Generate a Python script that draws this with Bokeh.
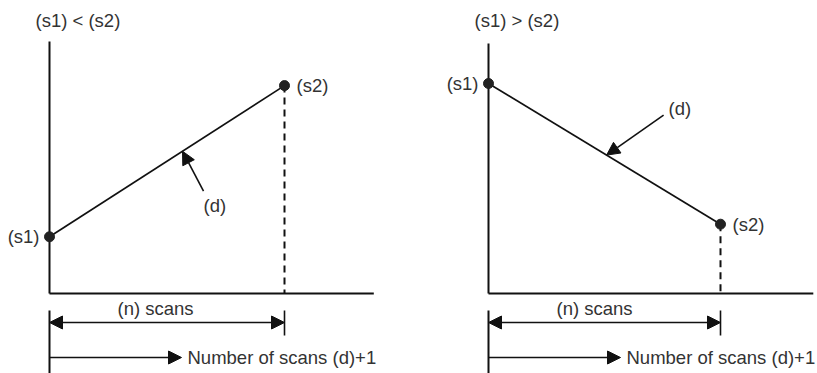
from bokeh.plotting import figure
from bokeh.layouts import row
from bokeh.models import Arrow, NormalHead, Range1d
from bokeh.core.properties import value
from bokeh.embed import file_html
from bokeh.resources import INLINE

# ---- diagram values (abstract units) ----
titles = ["(s1) < (s2)", "(s1) > (s2)"]
s1_values = [2.7, 10.0]
s2_values = [9.9, 3.3]
n_scans = [10, 10]
axis_tops = [12.0, 11.9]
x_axis_ends = [13.8, 14.0]
d_fractions = [0.566, 0.509]        # where the (d) arrow touches the line
count_labels = ["(s1)", "(s2)", "(d)", "(n) scans", "Number of scans (d)+1"]

# ---- layout ----
FIG_W = [420, 397]
FIG_H = 373
X0_PX = [49, 68]          # axis x position inside each figure
Y0_PX = 80                # axis y position from the bottom
XS = [23.5, 23.2]         # px per x-unit
YS = 21.0                 # px per y-unit
FONT = value("Liberation Sans")
FS = "18.5px"
TXT = "#333333"
INK = "#111111"

# (d) arrow tail offsets from the head, in px (dx right, dy up)
D_TAIL = [(21, -40), (57, 40)]
D_LABEL = [(21, -54, "left"), (62, 47, "left")]   # label pos rel. to head (px)


def make_panel(i):
    xs, w, x0 = XS[i], FIG_W[i], X0_PX[i]
    p = figure(width=w, height=FIG_H, output_backend="svg", toolbar_location=None,
               x_range=Range1d(-x0 / xs, (w - x0) / xs),
               y_range=Range1d(-Y0_PX / YS, (FIG_H - Y0_PX) / YS),
               min_border=0)
    p.axis.visible = False
    p.grid.visible = False
    p.outline_line_color = None
    p.background_fill_color = "white"
    p.border_fill_color = "white"

    s1, s2, n = s1_values[i], s2_values[i], n_scans[i]

    def px_x(v):
        return v / xs

    def px_y(v):
        return v / YS

    def txt(x, y, t, align="left"):
        p.text(x=[x], y=[y], text=[t], text_font=FONT, text_font_size=FS,
               text_color=TXT, text_align=align, text_baseline="middle")

    # title
    txt(px_x(-14), (FIG_H - Y0_PX - 20) / YS, titles[i])

    # axes
    p.line([0, 0], [0, axis_tops[i]], line_color=INK, line_width=2)
    p.line([0, x_axis_ends[i]], [0, 0], line_color=INK, line_width=2)

    # ramp line
    p.line([0, n], [s1, s2], line_color=INK, line_width=1.7)
    # dashed drop line
    p.line([n, n], [s2, 0], line_color=INK, line_width=2, line_dash="7 5")
    # points
    p.scatter([0, n], [s1, s2], size=10, color="#222222")

    # point labels
    txt(px_x(-10), s1, count_labels[0], "right")
    txt(n + px_x(12), s2, count_labels[1], "left")

    # (d) arrow
    hx = d_fractions[i] * n
    hy = s1 + (s2 - s1) * d_fractions[i]
    tx = hx + px_x(D_TAIL[i][0])
    ty = hy + px_y(D_TAIL[i][1])
    p.add_layout(Arrow(x_start=tx, y_start=ty, x_end=hx, y_end=hy,
                       line_color=INK, line_width=1.6,
                       end=NormalHead(size=13, fill_color=INK, line_color=INK, line_width=1)))
    lx, ly, la = D_LABEL[i]
    txt(hx + px_x(lx), hy + px_y(ly), count_labels[2], la)

    # (n) scans dimension
    txt(px_x(68), px_y(-15), count_labels[3], "left")
    p.line([0, 0], [px_y(-17), px_y(-90)], line_color=INK, line_width=2)
    p.line([n, n], [px_y(-17), px_y(-42)], line_color=INK, line_width=1.6)
    p.add_layout(Arrow(x_start=0, y_start=px_y(-29), x_end=n, y_end=px_y(-29),
                       line_color=INK, line_width=1.6,
                       start=NormalHead(size=13, fill_color=INK, line_color=INK, line_width=1),
                       end=NormalHead(size=13, fill_color=INK, line_color=INK, line_width=1)))

    # number of scans arrow
    p.add_layout(Arrow(x_start=0, y_start=px_y(-64), x_end=px_x(132), y_end=px_y(-64),
                       line_color=INK, line_width=1.6,
                       end=NormalHead(size=13, fill_color=INK, line_color=INK, line_width=1)))
    txt(px_x(138), px_y(-64), count_labels[4], "left")
    return p


layout = row(make_panel(0), make_panel(1))
open("out.html", "w").write(file_html(layout, INLINE))
